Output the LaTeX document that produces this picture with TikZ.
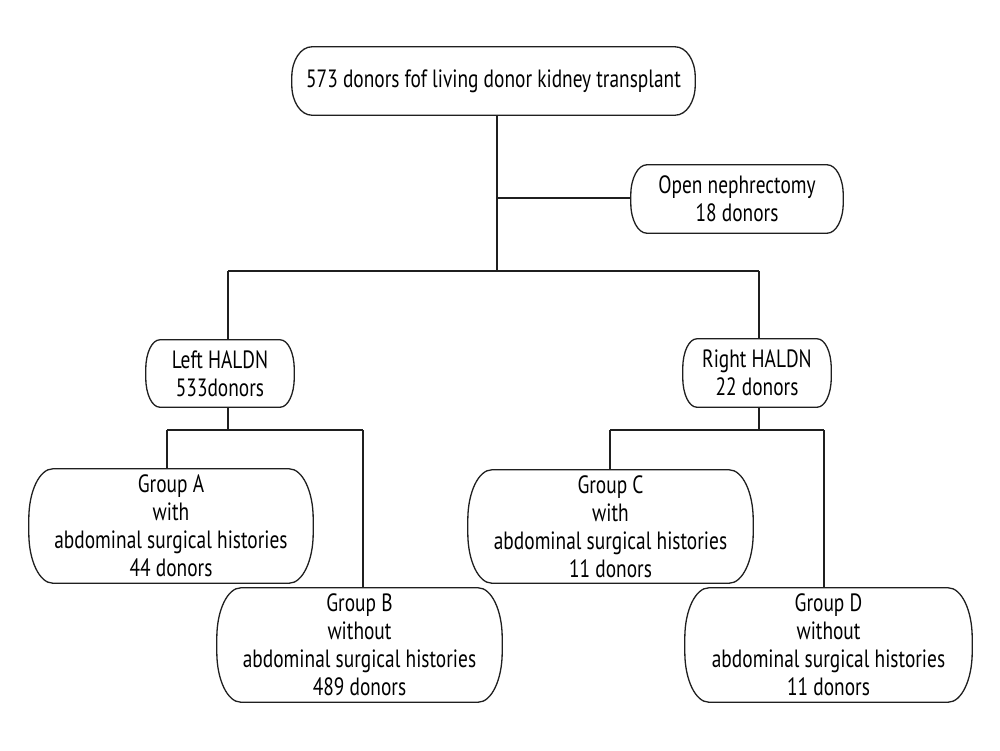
\documentclass[tikz,border=0pt]{standalone}
\usepackage{fontspec}
\setmainfont[FakeStretch=0.775]{PT Sans}
\begin{document}
\begin{tikzpicture}[x=1pt,y=-1pt,
  box/.style={draw=none,align=center,inner sep=0pt,font=\fontsize{25}{28}\selectfont,text=black},
  ln/.style={line width=1.3pt,draw=black!88}]
\useasboundingbox (0,0) rectangle (1000,750);
\fill[white] (0,0) rectangle (1000,750);
\node[box,minimum width=403pt,minimum height=68pt] (top) at (493.5,81) {573 donors fof living donor kidney transplant};
\node[box,minimum width=212pt,minimum height=68pt] (open) at (737,199) {Open nephrectomy\\18 donors};
\node[box,minimum width=148pt,minimum height=67pt] (left) at (220,373.5) {Left HALDN\\533donors};
\node[box,minimum width=148pt,minimum height=68pt] (right) at (757,373) {Right HALDN\\22 donors};
\node[box,minimum width=284pt,minimum height=114pt] (A) at (171,526) {Group A\\with\\abdominal surgical histories\\44 donors};
\node[box,minimum width=285pt,minimum height=114pt] (B) at (359.5,645) {Group B\\without\\abdominal surgical histories\\489 donors};
\node[box,minimum width=285pt,minimum height=113pt] (C) at (610.5,526.5) {Group C\\with\\abdominal surgical histories\\11 donors};
\node[box,minimum width=287pt,minimum height=114pt] (D) at (828.5,645) {Group D\\without\\abdominal surgical histories\\11 donors};
% outlines (elliptical corners, approximated with cubic curves)
\foreach \n/\rx/\ry in {top/20/30,open/16/30,left/14/29,right/14/29,A/24/50,B/24/50,C/24/50,D/24/50}{
  \pgfmathsetmacro{\cx}{0.448*\rx}
  \pgfmathsetmacro{\cy}{0.448*\ry}
  \draw[ln] ([xshift=\rx pt]\n.north west) -- ([xshift=-\rx pt]\n.north east)
    .. controls ([xshift=-\cx pt]\n.north east) and ([yshift=-\cy pt]\n.north east) .. ([yshift=-\ry pt]\n.north east)
    -- ([yshift=\ry pt]\n.south east)
    .. controls ([yshift=\cy pt]\n.south east) and ([xshift=-\cx pt]\n.south east) .. ([xshift=-\rx pt]\n.south east)
    -- ([xshift=\rx pt]\n.south west)
    .. controls ([xshift=\cx pt]\n.south west) and ([yshift=\cy pt]\n.south west) .. ([yshift=\ry pt]\n.south west)
    -- ([yshift=-\ry pt]\n.north west)
    .. controls ([yshift=-\cy pt]\n.north west) and ([xshift=\cx pt]\n.north west) .. cycle;
}
% junctions
\coordinate (j1) at (497,271);
\coordinate (jo) at (497,198);
\coordinate (jl) at (228,271);
\coordinate (jr) at (759,271);
\coordinate (kl) at (228,430);
\coordinate (kA) at (167,430);
\coordinate (kB) at (363,430);
\coordinate (kr) at (759,430);
\coordinate (kC) at (610,430);
\coordinate (kD) at (824,430);
\draw[ln] (top.south -| j1) -- (j1);
\draw[ln] (jo) -- (open.west |- jo);
\draw[ln] (jl) -- (jr);
\draw[ln] (jl) -- (left.north -| jl);
\draw[ln] (jr) -- (right.north -| jr);
\draw[ln] (left.south -| kl) -- (kl);
\draw[ln] (kA) -- (kB);
\draw[ln] (kA) -- (A.north -| kA);
\draw[ln] (kB) -- (B.north -| kB);
\draw[ln] (right.south -| kr) -- (kr);
\draw[ln] (kC) -- (kD);
\draw[ln] (kC) -- (C.north -| kC);
\draw[ln] (kD) -- (D.north -| kD);
\end{tikzpicture}
\end{document}
